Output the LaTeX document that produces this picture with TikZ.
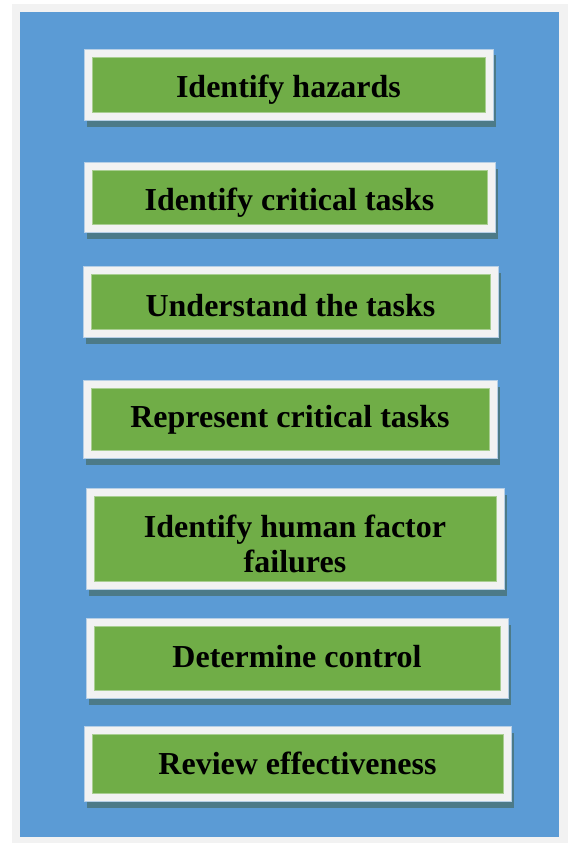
\documentclass[tikz,border=0pt]{standalone}
\usepackage{fontspec}
\setmainfont{Liberation Serif}
\definecolor{pagegray}{HTML}{F2F2F2}
\definecolor{bgblue}{HTML}{5B9BD5}
\definecolor{boxgreen}{HTML}{70AD47}
\definecolor{shadowcol}{HTML}{4C7A88}
\tikzset{
  framebox/.style={fill=pagegray, draw=pagegray!60!bgblue, line width=0.5pt},
  greenbox/.style={fill=boxgreen, draw=boxgreen!60!white, line width=0.5pt},
  shadowbox/.style={fill=shadowcol},
  steptext/.style={font=\bfseries\fontsize{32}{35}\selectfont, align=center, text=black, inner sep=0pt}
}
\newcommand{\hfstep}[7]{%
  \fill[shadowbox] (#2+3,#3+6.5) rectangle (#4+3,#5+6.5);
  \filldraw[framebox] (#2,#3) rectangle (#4,#5);
  \filldraw[greenbox] (#2+8,#3+8) rectangle (#4-8,#5-7.5);
  \node[steptext] (#1) at ({(#2+#4)/2},#7) {#6};
}
\begin{document}
\begin{tikzpicture}[x=1pt,y=-1pt]
\useasboundingbox (0,0) rectangle (568,843);
\fill[pagegray] (12,4) rectangle (568,843);
\fill[bgblue] (20,12) rectangle (559,837);
\hfstep{s1}{84}{49}{493}{120}{Identify hazards}{90}
\hfstep{s2}{84}{162}{495}{232}{Identify critical tasks}{203}
\hfstep{s3}{83}{266}{498}{337}{Understand the tasks}{306}
\hfstep{s4}{83}{380}{497}{458}{Represent critical tasks}{420}
\hfstep{s5}{86}{488}{504}{589}{Identify human factor\\failures}{543.5}
\hfstep{s6}{86}{618}{508}{698}{Determine control}{657}
\hfstep{s7}{84}{726}{511}{801}{Review effectiveness}{763.5}
\end{tikzpicture}
\end{document}
